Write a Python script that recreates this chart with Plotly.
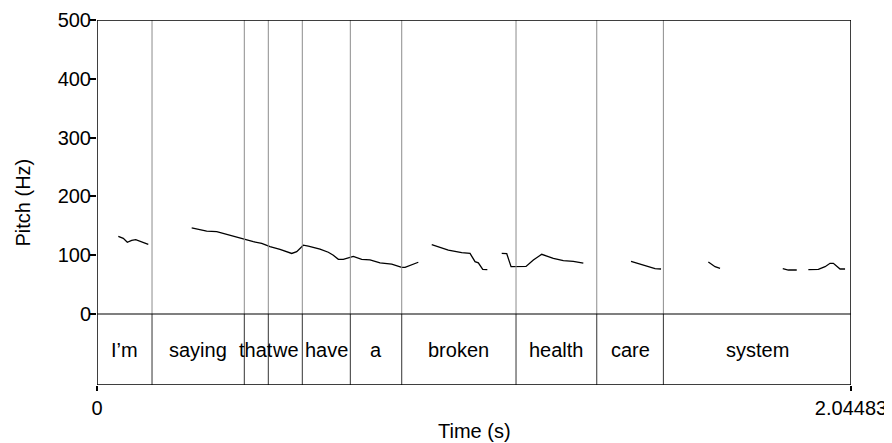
import plotly.graph_objects as go

# ---------------- data ----------------
T_END = 2.04483

# pitch contour segments (time s, pitch Hz); None = unvoiced gap
seg_times = [
    [0.0578, 0.0713, 0.0822, 0.0941, 0.1050, 0.1166, 0.1256, 0.1391],
    [0.2568, 0.2975, 0.3247, 0.3426, 0.3697, 0.3968, 0.4239, 0.4467, 0.4692, 0.4963,
     0.5281, 0.5416, 0.5595, 0.5731, 0.6048, 0.6273, 0.6409, 0.6545, 0.6680, 0.6951,
     0.7179, 0.7404, 0.7676, 0.7993, 0.8264, 0.8354, 0.8579, 0.8714],
    [0.9078, 0.9528, 0.9891, 1.0117, 1.0252, 1.0342, 1.0461, 1.0586],
    [1.0976, 1.1112, 1.1229, 1.1635, 1.1834, 1.2061, 1.2376, 1.2647, 1.2918, 1.3189],
    [1.4483, 1.4728, 1.4953, 1.5134, 1.5297],
    [1.6580, 1.6762, 1.6897],
    [1.8598, 1.8750, 1.8977],
    [1.9292, 1.9563, 1.9745, 1.9880, 1.9970, 2.0152, 2.0287],
]
seg_pitch = [
    [132, 128.7, 122, 125.3, 126.4, 124, 122, 118.5],
    [146.3, 141, 140, 137, 131.5, 127.5, 123, 120, 114.5, 110,
     103, 106, 117, 115.6, 110.5, 105, 100, 93, 93, 98,
     93, 92, 87, 85, 79.4, 79.4, 85, 88],
    [117.9, 108.8, 104.3, 103, 89, 87, 76, 75.4],
    [103, 102.6, 80.5, 81, 91.8, 101.5, 94.7, 90.7, 89.6, 86.7],
    [89.6, 85, 81.6, 77, 76.5],
    [88.4, 80.5, 77.7],
    [77, 74.8, 74.8],
    [75.4, 76, 80.5, 86.2, 86.2, 76.5, 76.5],
]

# word tier
word_bounds = [0.0, 0.1492, 0.3995, 0.4646, 0.5568, 0.6870, 0.8264, 1.1364, 1.3553, 1.5360, T_END]
word_labels = ["I\u2019m", "saying", "that", "we", "have", "a", "broken", "health", "care", "system"]

y_ticks = [0, 100, 200, 300, 400, 500]
x_ticks = [0, T_END]
x_ticktext = ["0", "2.04483"]

# ---------------- figure ----------------
Y_TOP = 500
Y_BOT = -120.75
FONT = "Liberation Sans, Arial, Helvetica, sans-serif"
FS = 20

xs, ys = [], []
for t, p in zip(seg_times, seg_pitch):
    xs += t + [None]
    ys += p + [None]

fig = go.Figure()
fig.add_trace(go.Scatter(x=xs, y=ys, mode="lines",
                         line=dict(color="black", width=1.3),
                         connectgaps=False, hoverinfo="skip", showlegend=False))

shapes = []
for b in word_bounds[1:-1]:
    shapes.append(dict(type="line", xref="x", yref="y", x0=b, x1=b, y0=0, y1=Y_TOP,
                       line=dict(color="#8c8c8c", width=1)))
    shapes.append(dict(type="line", xref="x", yref="y", x0=b, x1=b, y0=Y_BOT, y1=0,
                       line=dict(color="#333333", width=1)))
shapes.append(dict(type="line", xref="x", yref="y", x0=0, x1=T_END, y0=0, y1=0,
                   line=dict(color="black", width=1.2)))
shapes.append(dict(type="rect", xref="x", yref="y", x0=0, x1=T_END, y0=Y_BOT, y1=Y_TOP,
                   line=dict(color="black", width=1.5), fillcolor="rgba(0,0,0,0)"))

annotations = []
for i, lab in enumerate(word_labels):
    mid = (word_bounds[i] + word_bounds[i + 1]) / 2
    annotations.append(dict(x=mid, y=Y_BOT / 2, xref="x", yref="y", text=lab,
                            showarrow=False, font=dict(family=FONT, size=FS, color="black"),
                            xanchor="center", yanchor="middle"))
annotations.append(dict(x=0.5, y=0, xref="paper", yref="paper", text="Time (s)",
                        showarrow=False, font=dict(family=FONT, size=FS, color="black"),
                        xanchor="center", yanchor="middle", yshift=-46))
annotations.append(dict(x=0, y=0.5, xref="paper", yref="paper", text="Pitch (Hz)",
                        showarrow=False, font=dict(family=FONT, size=FS, color="black"),
                        xanchor="center", yanchor="middle", textangle=-90, xshift=-75))

# page body has an 8px margin; compensate so the plot lands where the reference has it
fig.update_layout(
    width=884, height=435,
    margin=dict(l=89, r=41, t=12, b=58, pad=0),
    paper_bgcolor="white", plot_bgcolor="white",
    shapes=shapes, annotations=annotations,
    font=dict(family=FONT, size=FS, color="black"),
    xaxis=dict(range=[0, T_END], tickvals=x_ticks, ticktext=x_ticktext,
               ticks="outside", ticklen=5, tickwidth=1.5, tickcolor="black",
               automargin=False,
               showgrid=False, zeroline=False, showline=False,
               tickfont=dict(family=FONT, size=FS, color="black")),
    yaxis=dict(range=[Y_BOT, Y_TOP], tickvals=y_ticks,
               ticks="outside", ticklen=6, tickwidth=1.5, tickcolor="black",
               ticklabelstandoff=-5, automargin=False,
               showgrid=False, zeroline=False, showline=False,
               tickfont=dict(family=FONT, size=FS, color="black")),
)

fig.write_html("out.html")
